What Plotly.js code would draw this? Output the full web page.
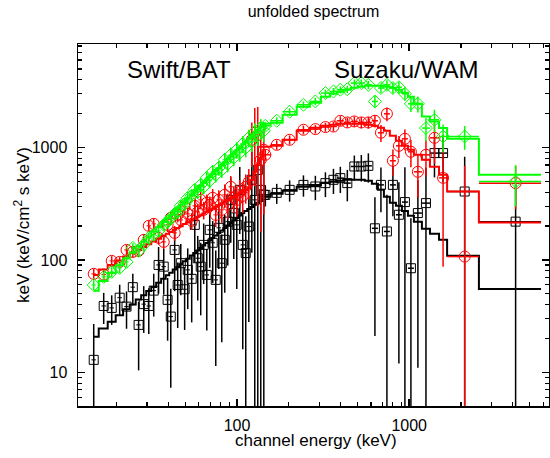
<!DOCTYPE html>
<html><head><meta charset="utf-8">
<script src="https://cdn.plot.ly/plotly-3.0.1.min.js"></script>
<style>html,body{margin:0;padding:0;background:#fff}#chart{width:550px;height:458px}</style>
</head><body><div id="chart"></div>
<script>
// ---- Swift/BAT (channel energies, keV) ----
const batEnergy = [14.7, 16.8, 18.7, 20.8, 22.8, 24.8, 26.8, 28.7, 30.7, 32.8, 35.0, 37.5, 39.5, 41.2, 43.4, 45.2, 47.1, 49.6, 51.7, 54.5, 56.8, 59.1, 61.5, 64.0, 66.7, 69.4, 72.2, 75.2, 78.3, 81.5, 84.8, 88.3, 91.9, 95.7, 99.6, 103.7, 107.9, 112.3, 117.0, 121.8, 126.7, 131.9, 137.3, 143.0];

const batBlack = [12.9, 38.9, 37.4, 46.1, 38.4, 57.2, 26.4, 40.4, 38.9, 53.3, 90.2, 87.1, 44.1, 31.3, 122.7, 59.8, 93.5, 54.8, 81.5, 67.8, 205, 103.5, 87.1, 136, 73.5, 185, 142, 66.4, 193, 93.5, 151, 219, 342, 262, 205, 420, 136, 115, 198, 516, 342, 632, 420, 379];
const batBlackErr = [14, 12, 11, 14, 14, 18, 16, 18, 17, 22, 40, 38, 25, 24, 70, 35, 45, 31, 45, 40, 110, 60, 55, 75, 50, 100, 80, 55, 110, 75, 100, 130, 200, 160, 150, 250, 120, 130, 170, 400, 350, 650, 450, 400];
const batBlackModel = [20.7, 24.5, 28.1, 32.2, 36.3, 40.2, 44.5, 48.4, 52.8, 57.4, 62.5, 68.0, 72.9, 76.8, 82.2, 86.5, 91.0, 97.3, 102.5, 109.7, 115.4, 121.5, 127.9, 134.6, 141.3, 148.8, 156.6, 164.9, 173.6, 182.7, 192.3, 202.5, 213.1, 224.3, 236.1, 248.5, 261, 273, 284, 296, 309, 322, 335, 349];

const batRed = [75.1, 74.0, 98.0, 96.0, 122.7, 117.8, 120.3, 150.7, 200.9, 209.3, 157.0, 144.6, 205.0, 236.6, 174.0, 251.6, 227.1, 296.5, 256.8, 222.5, 302.6, 267.5, 342.2, 278.8, 321.8, 308.9, 356.6, 251.6, 342.2, 278.8, 379.2, 308.9, 446.7, 356.6, 342.2, 403.2, 371.5, 446.7, 495.0, 1171, 1352, 1298, 777.3, 954.0];
const batRedErr = [8, 8, 10, 10, 13, 13, 14, 17, 22, 24, 20, 20, 28, 32, 26, 36, 34, 45, 40, 38, 50, 46, 60, 50, 60, 58, 70, 55, 75, 65, 90, 80, 110, 95, 100, 110, 110, 130, 150, 500, 900, 1000, 600, 700];
const batRedModel = [73.2, 82.1, 90.1, 98.8, 107.0, 114.5, 122.7, 130.0, 137.7, 145.8, 154.5, 163.6, 171.1, 177.2, 185.7, 192.0, 198.8, 208.4, 215.3, 225.7, 233.7, 241.5, 250.0, 258.9, 268.1, 277.7, 286.9, 297.1, 307.6, 318.5, 329.9, 340.8, 352.9, 365.5, 378.4, 391.9, 404.9, 419.3, 434.2, 515.7, 607.5, 701.3, 809.6, 915.6];

const batGreen = [59.9, 70.6, 78.2, 84.9, 96.0, 127.9, 120.3, 136.0, 157.0, 167.0, 181.2, 205.0, 218.0, 236.6, 256.8, 267.5, 302.6, 315.3, 356.6, 371.5, 420.1, 403.2, 465.5, 446.7, 537.4, 505.3, 607.5, 571.3, 659.6, 633.0, 777.3, 715.9, 861.0, 809.6, 954.0, 897.0, 1079, 993.8, 1220, 1124, 1380, 1271, 1497, 1408];
const batGreenErr = [6, 7, 8, 9, 10, 13, 13, 14, 17, 18, 20, 23, 25, 28, 31, 33, 38, 40, 46, 48, 56, 55, 64, 62, 76, 72, 88, 84, 100, 97, 120, 112, 140, 130, 160, 150, 190, 175, 220, 210, 260, 240, 300, 290];
const batGreenModel = [53.2, 65.0, 76.3, 89.7, 103.1, 116.4, 131.3, 145.3, 160.6, 177.6, 196.3, 217.1, 235.1, 250.0, 270.9, 287.4, 305.7, 331.1, 351.5, 380.7, 404.9, 429.7, 456.0, 485.0, 514.6, 547.4, 580.8, 617.7, 655.6, 695.7, 739.8, 785.2, 834.9, 886.0, 940.3, 1000, 1061, 1128, 1198, 1271, 1352, 1435, 1525, 1619];

// ---- Suzaku/WAM (bin edges and centres, keV) ----
const wamEdges = [135, 157, 184, 222, 265, 307, 346, 380, 417, 458, 503, 552, 607, 658, 713, 772, 837, 907, 983, 1065, 1185, 1320, 1490, 1660, 2540, 5830];
const wamEnergy = [146, 170, 202, 243, 285, 326, 363, 398, 437, 480, 527, 579, 632, 685, 742, 804, 871, 944, 1023, 1123, 1251, 1402, 1573, 2100, 4150];

const wamBlack = [379, 395, 420, 465, 450, 482, 516, 534, 482, 678, 678, 687, 191, 465, 179, 465, 252, 327, 84.3, 261, 320, 892, 892, 406, 219];
const wamBlackErr = [80, 80, 90, 100, 110, 120, 130, 140, 150, 170, 180, 200, 170, 200, 200, 220, 240, 340, 150, 250, 340, 350, 400, 420, 250];
const wamBlackModel = [364, 387, 412, 447, 465, 485, 495, 505, 516, 516, 516, 505, 475, 420, 364, 322, 303, 273, 247, 218, 189, 171, 151, 109, 55.2];

const wamRed = [861, 1057, 1171, 1438, 1458, 1520, 1538, 1729, 1671, 1706, 1671, 1671, 1729, 1352, 1995, 762, 1035, 1195, 916, 608, 861, 1219, 537, 107, 482];
const wamRedErr = [90, 100, 110, 130, 130, 140, 150, 170, 170, 180, 190, 200, 220, 230, 280, 200, 230, 250, 250, 250, 300, 500, 450, 580, 200];
const wamRedModel = [1014, 1035, 1171, 1409, 1497, 1561, 1593, 1626, 1626, 1626, 1626, 1593, 1561, 1497, 1409, 1271, 1147, 1035, 954, 861, 777, 673, 571, 406, 215];

const wamGreen = [1561, 1729, 2081, 2400, 2569, 3048, 3153, 3266, 3298, 3745, 3745, 3612, 2569, 3382, 3612, 3382, 3436, 3005, 2449, 2449, 1489, 1766, 1253, 1253, 498];
const wamGreenErr = [120, 130, 150, 170, 190, 220, 230, 240, 250, 280, 290, 300, 300, 320, 350, 380, 400, 400, 380, 400, 350, 400, 350, 300, 200];
const wamGreenModel = [1626, 1660, 1954, 2302, 2500, 2827, 3005, 3133, 3266, 3405, 3475, 3543, 3543, 3543, 3475, 3405, 3266, 3069, 2827, 2449, 1889, 1706, 1489, 1195, 571];

const labels = {title: 'unfolded spectrum', x: 'channel energy (keV)', y: 'keV (keV/cm<sup>2</sup> s keV)', bat: 'Swift/BAT', wam: 'Suzaku/WAM'};

// ---- build traces ----
const wamLo = wamEnergy.map((e, i) => e - wamEdges[i]);
const wamHi = wamEnergy.map((e, i) => wamEdges[i + 1] - e);

function batData(y, err, color, symbol, size) {
  return {x: batEnergy, y: y, type: 'scatter', mode: 'markers',
    marker: {symbol: symbol, size: size, color: color, line: {color: color, width: 1}},
    error_y: {type: 'data', array: err, visible: true, color: color, thickness: 1.5, width: 0},
    error_x: {type: 'percent', value: 3, visible: true, color: color, thickness: 1, width: 0},
    hoverinfo: 'skip'};
}
function wamData(y, err, color, symbol, size) {
  return {x: wamEnergy, y: y, type: 'scatter', mode: 'markers',
    marker: {symbol: symbol, size: size, color: color, line: {color: color, width: 1}},
    error_y: {type: 'data', array: err, visible: true, color: color, thickness: 1.5, width: 0},
    error_x: {type: 'data', symmetric: false, array: wamHi, arrayminus: wamLo, visible: true, color: color, thickness: 1.5, width: 0},
    hoverinfo: 'skip'};
}
function batModel(m, color) {
  return {x: batEnergy, y: m, type: 'scatter', mode: 'lines', line: {color: color, width: 2, shape: 'hvh'}, hoverinfo: 'skip'};
}
function wamModel(m, color) {
  return {x: wamEdges, y: m.concat([m[m.length - 1]]), type: 'scatter', mode: 'lines', line: {color: color, width: 2, shape: 'hv'}, hoverinfo: 'skip'};
}

const K = '#000000', R = '#ff0000', G = '#00ff00';
const traces = [
  batData(batBlack, batBlackErr, K, 'square-open', 9),
  wamData(wamBlack, wamBlackErr, K, 'square-open', 9),
  batModel(batBlackModel, K), wamModel(wamBlackModel, K),
  batData(batRed, batRedErr, R, 'circle-open', 11),
  wamData(wamRed, wamRedErr, R, 'circle-open', 11),
  batModel(batRedModel, R), wamModel(wamRedModel, R),
  batData(batGreen, batGreenErr, G, 'diamond-open', 10),
  wamData(wamGreen, wamGreenErr, G, 'diamond-open', 10),
  batModel(batGreenModel, G), wamModel(wamGreenModel, G)
];

const axisCommon = {
  type: 'log', showline: true, linecolor: '#000', linewidth: 1.5, mirror: 'allticks',
  ticks: 'inside', ticklen: 7, tickwidth: 1.5, tickcolor: '#000', dtick: 1,
  exponentformat: 'none', showgrid: false, zeroline: false,
  tickfont: {size: 16, color: '#000'},
  minor: {ticks: 'inside', ticklen: 4, tickwidth: 1.2, tickcolor: '#000', dtick: 'D1', showgrid: false}
};

const layout = {
  width: 550, height: 458,
  margin: {l: 78, r: 1, t: 44, b: 52},
  paper_bgcolor: '#fff', plot_bgcolor: '#fff', showlegend: false,
  font: {family: 'Liberation Sans, Arial, sans-serif', color: '#000'},
  title: {text: labels.title, font: {size: 16, color: '#000'}, xref: 'paper', x: 0.5, xanchor: 'center', yref: 'container', y: 0.975, yanchor: 'middle'},
  xaxis: Object.assign({}, axisCommon, {range: [1.076, 3.812], ticklabelstandoff: 4}),
  yaxis: Object.assign({}, axisCommon, {range: [0.70, 3.921], ticklabelstandoff: 6}),
  annotations: [
    {text: labels.bat, xref: 'paper', yref: 'paper', x: 0.2144, y: 0.93, xanchor: 'center', yanchor: 'middle', showarrow: false, font: {size: 24, color: '#000'}},
    {text: labels.wam, xref: 'paper', yref: 'paper', x: 0.6962, y: 0.93, xanchor: 'center', yanchor: 'middle', showarrow: false, font: {size: 24, color: '#000'}},
    {text: labels.x, xref: 'paper', yref: 'paper', x: 0.505, y: -0.095, xanchor: 'center', yanchor: 'middle', showarrow: false, font: {size: 17, color: '#000'}},
    {text: labels.y, xref: 'paper', yref: 'paper', x: -0.119, y: 0.5, xanchor: 'center', yanchor: 'middle', textangle: -90, showarrow: false, font: {size: 17, color: '#000'}}
  ]
};

Plotly.newPlot('chart', traces, layout, {staticPlot: true, displayModeBar: false});
</script>
</body></html>
